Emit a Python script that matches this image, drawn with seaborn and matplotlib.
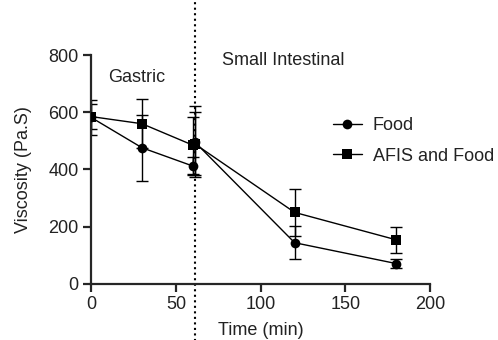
import numpy as np
import pandas as pd
import matplotlib
matplotlib.use("Agg")
import matplotlib.pyplot as plt
import seaborn as sns

# values
time_min = [0, 30, 60, 61, 120, 180]
food_mean = [582, 476, 412, 497, 144, 71]
food_err = [60, 115, 30, 125, 58, 16]
afis_mean = [585, 560, 485, 490, 250, 154]
afis_err = [45, 85, 100, 110, 82, 46]

series_names = ["Food", "AFIS and Food"]
x_ticks = [0, 50, 100, 150, 200]
y_ticks = [0, 200, 400, 600, 800]
phase_boundary = 61

sns.set_style("ticks")
plt.rcParams["font.family"] = ["Liberation Sans", "DejaVu Sans"]
plt.rcParams["axes.linewidth"] = 1.6
FS = 13
TXT = "#222222"

df = pd.DataFrame({
    "Time": time_min * 2,
    "Viscosity": food_mean + afis_mean,
    "Err": food_err + afis_err,
    "Group": [series_names[0]] * len(time_min) + [series_names[1]] * len(time_min),
})

fig = plt.figure(figsize=(4.98, 3.40), dpi=100)
ax = fig.add_axes([0.183, 0.165, 0.681, 0.673])

for name, sub in df.groupby("Group", sort=False):
    ax.errorbar(sub["Time"], sub["Viscosity"], yerr=sub["Err"], fmt="none",
                ecolor="black", elinewidth=1, capsize=4, capthick=1, zorder=2)

sns.lineplot(data=df, x="Time", y="Viscosity", hue="Group", style="Group",
             markers={"Food": "o", "AFIS and Food": "s"}, dashes=False,
             palette={"Food": "black", "AFIS and Food": "black"},
             markersize=7, markeredgewidth=0, linewidth=1, ax=ax, zorder=3)

ax.axvline(phase_boundary, ymin=-0.25, ymax=1.25, color="black", linestyle=":",
           linewidth=1.5, clip_on=False)

ax.text(10, 720, "Gastric", fontsize=FS, color=TXT, va="center")
ax.text(77, 780, "Small Intestinal", fontsize=FS, color=TXT, va="center")

ax.set_xlim(0, 200)
ax.set_ylim(0, 800)
ax.set_xticks(x_ticks)
ax.set_yticks(y_ticks)
ax.set_xlabel("Time (min)", fontsize=FS, color=TXT, labelpad=6)
ax.set_ylabel("Viscosity (Pa.S)", fontsize=FS, color=TXT, labelpad=12)
ax.tick_params(axis="both", labelsize=FS, labelcolor=TXT, width=1.6, length=6,
               direction="out", pad=3)
sns.despine(ax=ax)

leg = ax.legend(frameon=False, fontsize=FS, loc="upper left",
                bbox_to_anchor=(0.665, 0.80), handlelength=1.6, labelspacing=0.75,
                handletextpad=0.6)
for t in leg.get_texts():
    t.set_color(TXT)

fig.savefig("out.png", dpi=100)
